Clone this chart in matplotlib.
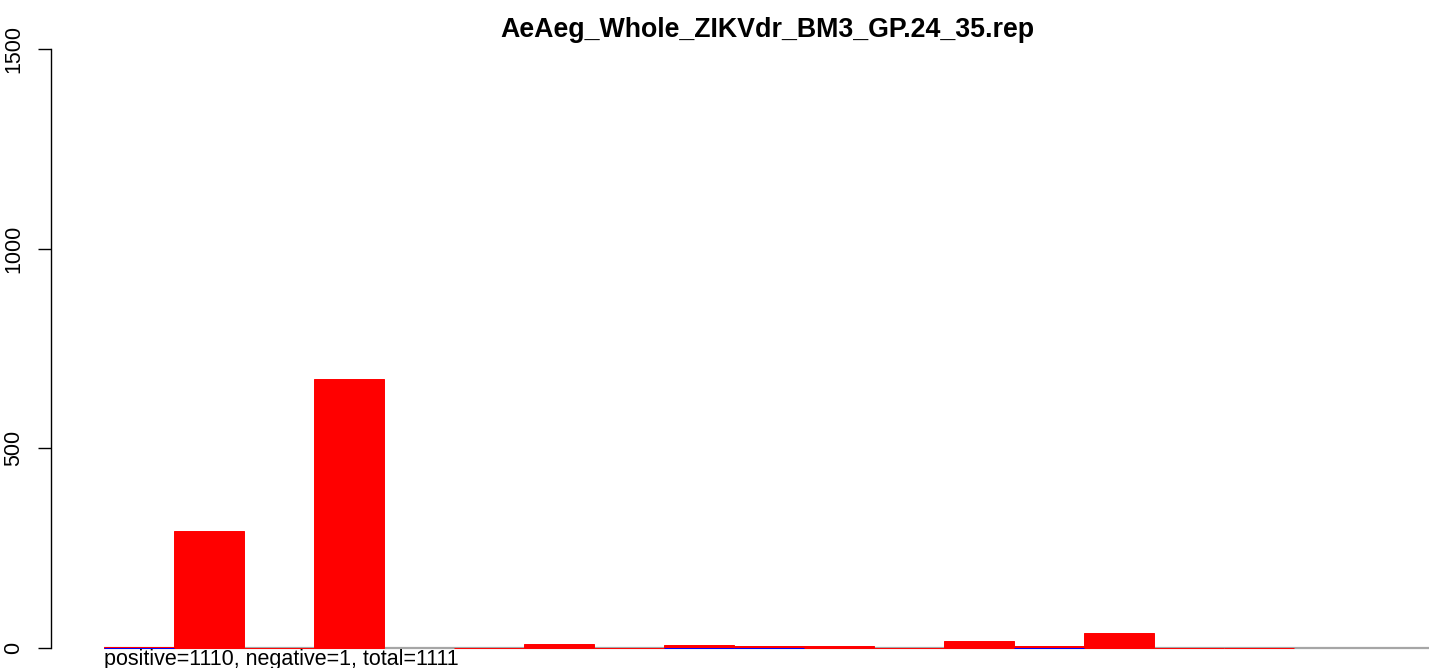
import numpy as np
import matplotlib
matplotlib.use("Agg")
import matplotlib.pyplot as plt

plt.rcParams['font.family'] = ['Liberation Sans', 'DejaVu Sans']

title = "AeAeg_Whole_ZIKVdr_BM3_GP.24_35.rep"
note = "positive=1110, negative=1, total=1111"
# read counts per bin, red = positive strand, blue = negative strand
positive = np.array([3, 293, 1, 673, 0, 1, 9, 1, 8, 5, 5, 1, 18, 5, 38, 1, 1])
negative = np.array([-1, 0, 0, 0, 0, 0, 0, 0, -1, -1, 0, 0, 0, -1, 0, 0, 0])
yticks = [0, 500, 1000, 1500]

W, H = 1429, 668
fig = plt.figure(figsize=(W / 100, H / 100), dpi=100)
ax = fig.add_axes([51 / W, 0, 1 - 51 / W, 1])

bw = 70.0       # bar width in pixels
px_per_unit = 599 / 1500.0
x = np.arange(len(positive))
ax.set_xlim(-53 / bw, (W - 104) / bw)
ax.set_ylim(-20 / px_per_unit, 648 / px_per_unit)

ax.hlines(0, 0, (W - 104) / bw, color='#a6a6a6', lw=1.6, zorder=1)
p = positive != 0
n = negative != 0
ax.bar(x[p], positive[p], width=1, align='edge', color='red', edgecolor='red', lw=0.7, zorder=2)
ax.bar(x[n], negative[n], width=1, align='edge', color='blue', edgecolor='blue', lw=0.7, zorder=3)

for s in ['top', 'right', 'bottom']:
    ax.spines[s].set_visible(False)
ax.spines['left'].set_bounds(0, 1500)
ax.spines['left'].set_linewidth(1.0)
ax.set_xticks([])
ax.set_yticks(yticks)
ax.set_yticklabels([str(t) for t in yticks], rotation=90, va='center', fontsize=15.5)
ax.tick_params(axis='y', length=9.5, width=1.0, pad=10)

ax.text(0, -3, note, ha='left', va='top', fontsize=15.5)
fig.text(767 / W, 1 - 30 / H, title, ha='center', va='center', fontsize=19.3, fontweight='bold')

fig.savefig("out.png", dpi=100)
